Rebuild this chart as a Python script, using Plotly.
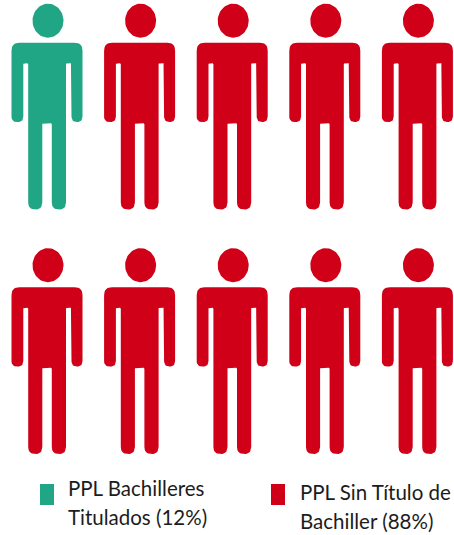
import math
import plotly.graph_objects as go

categories = ["PPL Bachilleres Titulados", "PPL Sin Título de Bachiller"]
legend_lines = [["PPL Bachilleres", "Titulados (12%)"], ["PPL Sin Título de", "Bachiller (88%)"]]
percentages = [12, 88]
icon_counts = [1, 9]
colors = ["#21A685", "#CF0018"]

W, H = 454, 535
COLS = 5
X0, DX = 48.0, 92.6
Y0, DY = 0.0, 244.5

# Person outline relative to the head centre x, with corner radius at each vertex
OUTLINE = [
    (-36.5, 42.7, 8), (34.5, 42.7, 8), (34.5, 122, 5.5), (23.5, 122, 5.5),
    (23.5, 63.3, 1), (18, 63.3, 1), (18, 209.5, 7), (3.8, 209.5, 7),
    (3.8, 123.3, 1), (-5.7, 123.3, 1), (-5.7, 209.5, 7), (-19.8, 209.5, 7),
    (-19.8, 63.3, 1), (-24.7, 63.3, 1), (-24.7, 122, 5.5), (-36.5, 122, 5.5),
]
HEAD = (0.0, 20.7, 15.5, 17.0)


def rounded(points):
    out = []
    n = len(points)
    for i, (x, y, r) in enumerate(points):
        px, py, _ = points[i - 1]
        nx, ny, _ = points[(i + 1) % n]
        la = math.hypot(px - x, py - y)
        lb = math.hypot(nx - x, ny - y)
        ra = min(r, la / 2)
        rb = min(r, lb / 2)
        ax, ay = x + (px - x) * ra / la, y + (py - y) * ra / la
        bx, by = x + (nx - x) * rb / lb, y + (ny - y) * rb / lb
        for k in range(9):
            t = k / 8
            out.append(((1 - t) ** 2 * ax + 2 * t * (1 - t) * x + t * t * bx,
                        (1 - t) ** 2 * ay + 2 * t * (1 - t) * y + t * t * by))
    return out


BODY = rounded(OUTLINE)


def person(cx, top):
    xs = [cx + p[0] for p in BODY] + [cx + BODY[0][0], None]
    ys = [top + p[1] for p in BODY] + [top + BODY[0][1], None]
    hx, hy, rx, ry = HEAD
    for k in range(61):
        a = 2 * math.pi * k / 60
        xs.append(cx + hx + rx * math.cos(a))
        ys.append(top + hy + ry * math.sin(a))
    xs.append(None)
    ys.append(None)
    return xs, ys


fig = go.Figure()
index = 0
for name, pct, count, color in zip(categories, percentages, icon_counts, colors):
    xs, ys = [], []
    for _ in range(count):
        col, row = index % COLS, index // COLS
        px, py = person(X0 + col * DX, Y0 + row * DY)
        xs += px
        ys += py
        index += 1
    fig.add_trace(go.Scatter(x=xs, y=ys, mode="lines", fill="toself", fillcolor=color,
                             line=dict(color=color, width=0), name=f"{name} ({pct}%)",
                             hoverinfo="name", showlegend=False))

LEGEND = [(40, 484, 66.5, 487.5, 80 / 3.0), (271, 484, 298.5, 491.5, 80 / 3.0)]
LINE_GAP = 29
for (sx, sy, tx, ty, _), lines, color in zip(LEGEND, legend_lines, colors):
    fig.add_trace(go.Scatter(x=[sx, sx + 14, sx + 14, sx, sx], y=[sy, sy, sy + 21, sy + 21, sy],
                             mode="lines", fill="toself", fillcolor=color,
                             line=dict(color=color, width=0), hoverinfo="skip", showlegend=False))
    for i, text in enumerate(lines):
        fig.add_annotation(x=tx, y=ty + i * LINE_GAP, text=text, showarrow=False, xanchor="left",
                           yanchor="middle", align="left", xshift=-1,
                           font=dict(family="Lato", size=20.5, color="#1c1c1c"))

fig.update_layout(width=W, height=H, margin=dict(l=0, r=0, t=0, b=0), autosize=False,
                  paper_bgcolor="white", plot_bgcolor="white",
                  xaxis=dict(range=[0, W], visible=False, fixedrange=True),
                  yaxis=dict(range=[H, 0], visible=False, fixedrange=True))
fig.write_html("out.html", config=dict(displayModeBar=False),
               post_script="document.body.style.margin='0';document.body.style.overflow='hidden';")
